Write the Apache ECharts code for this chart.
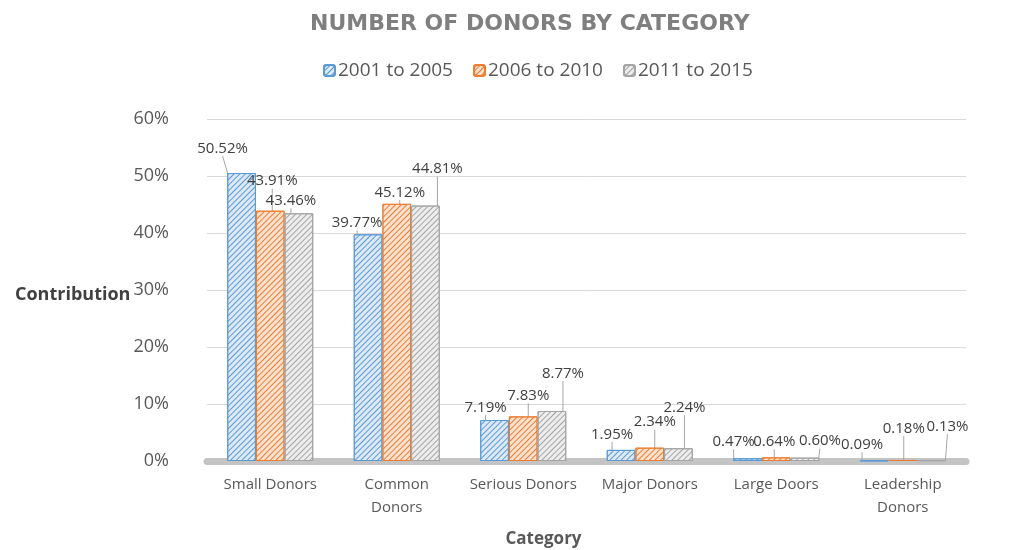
<!DOCTYPE html>
<html>
<head>
<meta charset="utf-8">
<script src="https://cdn.jsdelivr.net/npm/echarts@6/dist/echarts.min.js"></script>
<style>
  html, body { margin: 0; padding: 0; background: #fff; }
  #chart { width: 1011px; height: 550px; }
</style>
</head>
<body>
<div id="chart"></div>
<script>
var categories = ["Small Donors", "Common\nDonors", "Serious Donors", "Major Donors", "Large Doors", "Leadership\nDonors"];
var period1 = [50.52, 39.77, 7.19, 1.95, 0.47, 0.09];
var period2 = [43.91, 45.12, 7.83, 2.34, 0.64, 0.18];
var period3 = [43.46, 44.81, 8.77, 2.24, 0.60, 0.13];
var seriesNames = ["2001 to 2005", "2006 to 2010", "2011 to 2015"];

//label nudges [dx, dy] per series, per category (layout only)
var labelShift = [
    [[-19, -17], [-11, -4], [-9, -5], [-9, -8], [-14, -9], [-12, -8]],
    [[2, -22], [3, -4], [5, -13], [5, -18], [-2, -8], [1, -24]],
    [[-8, -5], [12, -29], [11, -30], [6, -33], [15, -9], [16, -26]]
];

var myChart = echarts.init(document.getElementById("chart"));

//hatched bar style
function hatch(fill, line) {
    return {
        color: fill,
        borderColor: line,
        borderWidth: 1,
        decal: {
            symbol: "rect",
            color: line,
            dashArrayX: [1, 0],
            dashArrayY: [1, 3],
            rotation: -Math.PI / 4
        }
    };
}

function makeSeries(idx, data, fill, line) {
    return {
        name: seriesNames[idx],
        type: "bar",
        data: data,
        barGap: 0,
        barCategoryGap: "32%",
        itemStyle: hatch(fill, line),
        label: {
            show: true,
            position: "top",
            distance: 0,
            color: "#404040",
            fontSize: 15,
            fontFamily: "Open Sans",
            formatter: function (p) { return p.value.toFixed(2) + "%"; }
        },
        labelLine: { show: true, lineStyle: { color: "#a6a6a6", width: 1 } },
        labelLayout: function (p) {
            var s = labelShift[idx][p.dataIndex];
            return { dx: s[0], dy: s[1] };
        }
    };
}

var option = {
    animation: false,
    textStyle: { fontFamily: "Open Sans" },
    title: [
        {
            text: "NUMBER OF DONORS BY CATEGORY",
            left: 305,
            top: 8,
            textStyle: { color: "#7f7f7f", fontSize: 22, fontWeight: "bold", fontFamily: "DejaVu Sans" }
        },
        {
            text: "Contribution",
            left: 10,
            top: 281,
            textStyle: { color: "#404040", fontSize: 18, fontWeight: "bold", fontFamily: "Open Sans" }
        }
    ],
    legend: {
        data: seriesNames,
        top: 56,
        left: 318,
        itemWidth: 11,
        itemHeight: 11,
        itemGap: 20,
        textStyle: { color: "#595959", fontSize: 19, fontFamily: "Open Sans", padding: [0, 0, 0, -2] }
    },
    grid: { left: 207, right: 45, top: 119, bottom: 89, outerBoundsMode: "none" },
    xAxis: {
        type: "category",
        data: categories,
        name: "Category",
        nameLocation: "middle",
        nameGap: 70,
        nameTextStyle: { color: "#595959", fontSize: 17, fontWeight: "bold", padding: [0, 86, 0, 0] },
        axisTick: { show: false },
        axisLine: { lineStyle: { color: "#c4c4c4", width: 7 } },
        axisLabel: { color: "#595959", fontSize: 15, margin: 12, lineHeight: 23, interval: 0 }
    },
    yAxis: {
        type: "value",
        min: 0,
        max: 60,
        interval: 10,
        axisLabel: { formatter: "{value}%", color: "#595959", fontSize: 18, margin: 38 },
        axisLine: { show: false },
        axisTick: { show: false },
        splitLine: { lineStyle: { color: "#d9d9d9" } }
    },
    series: [
        makeSeries(0, period1, "#dde9f6", "#5b9bd5"),
        makeSeries(1, period2, "#fbe2d0", "#ed7d31"),
        makeSeries(2, period3, "#ededed", "#a5a5a5")
    ]
};

myChart.setOption(option);
</script>
</body>
</html>
